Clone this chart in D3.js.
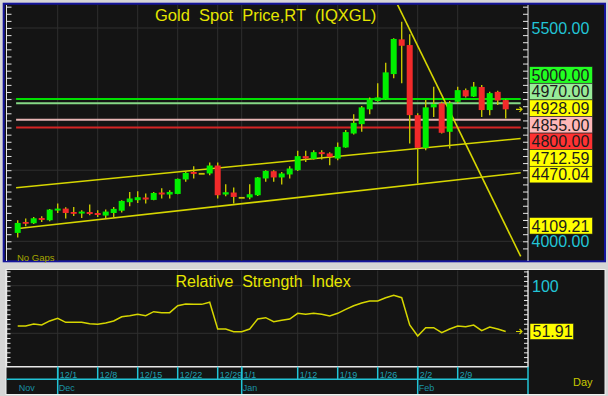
<!DOCTYPE html>
<html lang="en">
<head>
<meta charset="utf-8">
<title>Gold Spot Price,RT (IQXGL)</title>
<script src="https://cdnjs.cloudflare.com/ajax/libs/d3/7.8.5/d3.min.js"></script>
<style>
  body { margin: 0; background: #d6d6d6; }
  svg { display: block; }
  text { font-family: "Liberation Sans", Arial, sans-serif; white-space: pre; }
</style>
</head>
<body>
<svg id="chart" width="608" height="396"></svg>
<script>
// trading days shown on the chart
const dates = ["11/24","11/25","11/26","11/27","11/28",
  "12/1","12/2","12/3","12/4","12/5","12/8","12/9","12/10","12/11","12/12",
  "12/15","12/16","12/17","12/18","12/19","12/22","12/23","12/24","12/25","12/26",
  "12/29","12/30","12/31","1/1","1/2","1/5","1/6","1/7","1/8","1/9",
  "1/12","1/13","1/14","1/15","1/16","1/19","1/20","1/21","1/22","1/23",
  "1/26","1/27","1/28","1/29","1/30","2/2","2/3","2/4","2/5","2/6",
  "2/9","2/10","2/11","2/12","2/13","2/16","2/17"];

const open = [4059,4136,4127,4164,4148,4216,4230,4206,4195,4206,
  4199,4181,4199,4215,4275,4289,4308,4291,4343,4329,
  4333,4435,4488,4481,4477,4533,4329,4343,4312,4308,
  4324,4442,4493,4449,4470,4500,4599,4580,4627,4618,
  4582,4660,4758,4824,4928,4986,5000,5176,5420,5380,
  4887,4657,4942,4970,4770,4981,5063,5018,5085,4923,
  5051,4993];
const high = [4148,4160,4171,4176,4228,4266,4240,4242,4218,4258,
  4218,4223,4242,4289,4347,4352,4336,4347,4373,4359,
  4442,4495,4528,4481,4554,4554,4401,4378,4312,4401,
  4453,4500,4500,4488,4528,4636,4636,4641,4641,4627,
  4695,4782,4894,4951,5012,5111,5256,5428,5544,5456,
  4901,4993,5087,4981,4986,5087,5075,5120,5099,5051,
  5058,4998];
const low = [4026,4106,4122,4136,4141,4199,4160,4178,4164,4183,
  4171,4160,4171,4202,4247,4270,4266,4289,4301,4301,
  4331,4418,4442,4481,4465,4301,4317,4266,4312,4296,
  4319,4418,4418,4399,4442,4495,4558,4575,4575,4535,
  4570,4657,4751,4770,4894,4982,4997,5146,5111,4688,
  4406,4641,4875,4758,4653,4970,5012,5014,4875,4887,
  4958,4864];
const close = [4129,4127,4162,4150,4223,4230,4199,4195,4209,4192,
  4185,4209,4228,4284,4301,4310,4294,4340,4329,4347,
  4439,4481,4474,4481,4533,4324,4345,4312,4312,4331,
  4449,4495,4449,4477,4512,4599,4582,4627,4613,4594,
  4664,4768,4833,4942,4998,5012,5188,5423,5375,4887,
  4657,4942,4965,4763,4970,5063,5019,5088,4923,5042,
  4990,4928.09];

const rsi = [57.7,57.7,59.8,58.7,63,65.8,61.5,61.5,61.5,60,
  59.4,60.8,63,67.4,68.5,70,68.5,72.7,71.7,71.7,
  79,80.8,80.4,80.4,82.6,54.5,54.5,51.7,51.7,54.5,
  65,66.4,62.2,63.6,65,71,70,71,70,68.2,
  71,75.2,79,81.8,84,84,87.4,89.9,87.4,58.7,
  47.2,55.9,55.9,50.6,54.5,57.7,57,58.7,52.7,56.6,
  54.5,51.91];

// horizontal price levels
const levelPrices = [5000, 4970, 4855, 4800];
const levelColors = ["#00e000", "#86d886", "#e6b4b4", "#d42424"];

// trend lines: [index, price] pairs
const upperChannel = [[0, 4378], [61, 4712.59]];
const lowerChannel = [[0, 4090], [61, 4470.04]];
const downTrend = [[47, 5719], [61, 4109.21]];

// right side tags
const tagValues = [5000, 4970, 4928.09, 4855, 4800, 4712.59, 4470.04, 4109.21];
const tagColors = ["#22ff22", "#98ec98", "#ffff00", "#ffb8b8", "#ff3232", "#ffff00", "#ffff00", "#ffff00"];

const weekTicks = ["12/1","12/8","12/15","12/22","12/29","1/1","1/12","1/19","1/26","2/2","2/9"];
const monthNames = ["Nov","Dec","Jan","Feb"];
const monthStarts = ["11/24","12/1","1/1","2/2"];

const svg = d3.select("#chart");
const BG = "#141414", GRID = "#2f2f2f", YEL = "#d6d600", CYAN = "#22c4d6";

const x = d3.scaleLinear().domain([0, dates.length - 1]).range([17.7, 505.7]);
const y = d3.scaleLinear().domain([4000, 5500]).range([241.3, 28]);
const yr = d3.scaleLinear().domain([50, 100]).range([333.3, 285.7]);
const xEnd = 520.7;   // lines run to here
const axisX = 528;

// panels
svg.append("rect").attr("x", 3.7).attr("y", 3.7).attr("width", 601.3).attr("height", 257.6)
  .attr("fill", BG).attr("stroke", "#15159c").attr("stroke-width", 2);
svg.append("rect").attr("x", 6).attr("y", 269.5).attr("width", 599).attr("height", 125)
  .attr("fill", BG).attr("stroke", "#efefef").attr("stroke-width", 1);

svg.append("defs").append("clipPath").attr("id", "clipTop")
  .append("rect").attr("x", 7).attr("y", 5).attr("width", axisX - 7).attr("height", 256);

const priceG = svg.append("g").attr("clip-path", "url(#clipTop)");

// grid
const weekIdx = weekTicks.map(d => dates.indexOf(d));
priceG.selectAll(".vg").data(weekIdx).join("line")
  .attr("x1", d => x(d)).attr("x2", d => x(d)).attr("y1", 5).attr("y2", 261)
  .attr("stroke", GRID);
priceG.selectAll(".hg").data([4000, 4500, 5000, 5500]).join("line")
  .attr("x1", 7).attr("x2", axisX).attr("y1", d => y(d)).attr("y2", d => y(d))
  .attr("stroke", GRID);

// levels
priceG.selectAll(".lvl").data(levelPrices).join("line")
  .attr("x1", x(-0.2)).attr("x2", xEnd).attr("y1", d => y(d)).attr("y2", d => y(d))
  .attr("stroke", (d, i) => levelColors[i]).attr("stroke-width", 2);

// trend lines extended to right edge
function extendLine(pts) {
  const [[i0, p0], [i1, p1]] = pts;
  const s = (p1 - p0) / (i1 - i0);
  const iStart = i0 === 0 ? -0.2 : i0;
  const iEnd = x.invert(xEnd);
  return [[iStart, p0 + s * (iStart - i0)], [iEnd, p0 + s * (iEnd - i0)]];
}
const lineGen = d3.line().x(d => x(d[0])).y(d => y(d[1]));
[upperChannel, lowerChannel, downTrend].forEach(t => {
  priceG.append("path").attr("d", lineGen(extendLine(t)))
    .attr("fill", "none").attr("stroke", YEL).attr("stroke-width", 1.6);
});

// candles
const idx = d3.range(dates.length);
priceG.selectAll(".wick").data(idx).join("line")
  .attr("x1", i => x(i)).attr("x2", i => x(i))
  .attr("y1", i => y(high[i])).attr("y2", i => y(low[i]))
  .attr("stroke", "#c4c400").attr("stroke-width", 1.4);
priceG.selectAll(".body").data(idx).join("rect")
  .attr("x", i => x(i) - 3).attr("width", 6)
  .attr("y", i => y(Math.max(open[i], close[i])))
  .attr("height", i => Math.max(1.8, Math.abs(y(open[i]) - y(close[i]))))
  .attr("fill", i => close[i] > open[i] ? "#00f000" : close[i] < open[i] ? "#f22a2a" : "#c4c400");

// last price arrow
function arrow(g, yy) {
  g.append("path").attr("d", `M516,${yy}h6m-2.5,-2.5l2.5,2.5l-2.5,2.5`)
    .attr("fill", "none").attr("stroke", YEL).attr("stroke-width", 1.2);
}
arrow(svg, y(close[close.length - 1]));

// axes (tick marks only)
const tickVals = d3.range(3950, 5651, 50);
const leftAx = svg.append("g").attr("transform", "translate(6.5,0)")
  .call(d3.axisRight(y).tickValues(tickVals).tickSize(5).tickFormat(""));
const rightAx = svg.append("g").attr("transform", `translate(${axisX},0)`)
  .call(d3.axisLeft(y).tickValues(tickVals).tickSize(5).tickFormat(""));
[leftAx, rightAx].forEach(g => {
  g.select(".domain").remove();
  g.selectAll("line").attr("stroke", "#e8e8e8");
});
svg.append("line").attr("x1", 6.5).attr("x2", 6.5).attr("y1", 5).attr("y2", 261).attr("stroke", "#e8e8e8");
svg.append("line").attr("x1", axisX).attr("x2", axisX).attr("y1", 5).attr("y2", 261).attr("stroke", "#e8e8e8");

// title
svg.append("text").attr("x", 155).attr("y", 20.5).attr("fill", "#e6e600")
  .attr("font-size", 16.5).text("Gold  Spot  Price,RT  (IQXGL)");
svg.append("text").attr("x", 17).attr("y", 261).attr("fill", "#a6a600")
  .attr("font-size", 9.5).text("No Gaps");

// price axis labels
svg.selectAll(".pl").data([5500, 4000]).join("text")
  .attr("x", 531.5).attr("y", d => y(d) + 6).attr("fill", CYAN)
  .attr("font-size", 16).text(d => d.toFixed(2));

// stacked tags
const tagH = 16.6;
let groups = tagValues.map((v, i) => ({ items: [{ v, bg: tagColors[i], want: y(v) }] }))
  .sort((a, b) => a.items[0].want - b.items[0].want);
const gTop = g => d3.mean(g.items, d => d.want) - g.items.length * tagH / 2;
let merged = true;
while (merged) {
  merged = false;
  for (let i = 0; i < groups.length - 1; i++) {
    const a = groups[i], b = groups[i + 1];
    if (gTop(a) + a.items.length * tagH > gTop(b)) {
      a.items = a.items.concat(b.items);
      groups.splice(i + 1, 1);
      merged = true;
      break;
    }
  }
}
groups.forEach(g => {
  const t0 = gTop(g);
  g.items.forEach((d, k) => {
    const ty = t0 + k * tagH;
    svg.append("rect").attr("x", 529.5).attr("y", ty).attr("width", 63).attr("height", tagH)
      .attr("fill", d.bg).attr("stroke", "#202020").attr("stroke-width", 0.6);
    svg.append("text").attr("x", 531.5).attr("y", ty + tagH / 2 + 5.8)
      .attr("fill", "#1c1c1c").attr("font-size", 16).text(d.v.toFixed(2));
  });
});

// ---- RSI panel ----
const rsiTop = 270.5, rsiBot = 366.7;
const rsiG = svg.append("g");
rsiG.selectAll(".vg").data(weekIdx).join("line")
  .attr("x1", d => x(d)).attr("x2", d => x(d)).attr("y1", rsiTop).attr("y2", rsiBot)
  .attr("stroke", GRID);
rsiG.selectAll(".hg").data([50, 100]).join("line")
  .attr("x1", 7).attr("x2", axisX).attr("y1", d => yr(d)).attr("y2", d => yr(d))
  .attr("stroke", GRID);

rsiG.append("path").datum(idx)
  .attr("d", d3.line().x(i => x(i)).y(i => yr(rsi[i])))
  .attr("fill", "none").attr("stroke", YEL).attr("stroke-width", 1.5);

svg.append("text").attr("x", 175.5).attr("y", 286.5).attr("fill", "#e6e600")
  .attr("font-size", 16).text("Relative  Strength  Index");

const rTicks = d3.range(20, 116, 5);
const rl = svg.append("g").attr("transform", "translate(6.5,0)")
  .call(d3.axisRight(yr).tickValues(rTicks).tickSize(4).tickFormat(""));
const rr = svg.append("g").attr("transform", `translate(${axisX},0)`)
  .call(d3.axisLeft(yr).tickValues(rTicks).tickSize(4).tickFormat(""));
[rl, rr].forEach(g => {
  g.select(".domain").remove();
  g.selectAll("line").attr("stroke", "#e8e8e8");
});
svg.append("path").attr("d", `M6.5,${rsiTop}V${rsiBot}H${axisX}V${rsiTop}`)
  .attr("fill", "none").attr("stroke", "#e8e8e8").attr("stroke-width", 1.4);

svg.selectAll(".rl").data([100, 50]).join("text")
  .attr("x", 532).attr("y", d => yr(d) + 6).attr("fill", CYAN)
  .attr("font-size", 16).text(d => d);
arrow(svg, yr(rsi[rsi.length - 1]));
const lastR = rsi[rsi.length - 1];
svg.append("rect").attr("x", 530).attr("y", yr(lastR) - 8).attr("width", 43.5).attr("height", 16)
  .attr("fill", "#ffff00").attr("stroke", "#202020").attr("stroke-width", 0.6);
svg.append("text").attr("x", 532.5).attr("y", yr(lastR) + 5.8).attr("fill", "#1c1c1c")
  .attr("font-size", 16).text(lastR.toFixed(2));

// ---- date axis ----
const rowMid = 379.3, axBot = 394;
svg.append("line").attr("x1", 6.7).attr("x2", axisX).attr("y1", rowMid).attr("y2", rowMid)
  .attr("stroke", CYAN).attr("stroke-width", 1.5);
svg.append("line").attr("x1", axisX).attr("x2", axisX).attr("y1", rsiBot).attr("y2", axBot)
  .attr("stroke", CYAN).attr("stroke-width", 1.5);
svg.selectAll(".wt").data(weekTicks).join("line")
  .attr("x1", d => x(dates.indexOf(d))).attr("x2", d => x(dates.indexOf(d)))
  .attr("y1", rsiBot).attr("y2", rowMid).attr("stroke", CYAN).attr("stroke-width", 1.5);
svg.selectAll(".wl").data(weekTicks).join("text")
  .attr("x", d => x(dates.indexOf(d)) + 2).attr("y", 378)
  .attr("fill", "#1fa2b4").attr("font-size", 9).text(d => d);
svg.selectAll(".mt").data(monthStarts.slice(1)).join("line")
  .attr("x1", d => x(dates.indexOf(d))).attr("x2", d => x(dates.indexOf(d)))
  .attr("y1", rsiBot).attr("y2", axBot).attr("stroke", CYAN).attr("stroke-width", 1.5);
svg.selectAll(".ml").data(monthNames).join("text")
  .attr("x", (d, i) => x(dates.indexOf(monthStarts[i])) + 1).attr("y", 390.5)
  .attr("fill", "#1a92a4").attr("font-size", 9).text(d => d);
svg.append("text").attr("x", 573).attr("y", 385.5).attr("fill", "#c8c800")
  .attr("font-size", 11).text("Day");
</script>
</body>
</html>
